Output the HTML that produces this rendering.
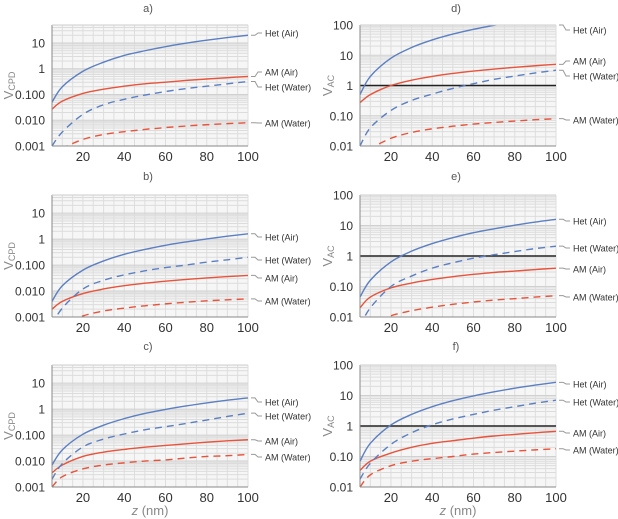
<!DOCTYPE html>
<html><head><meta charset="utf-8">
<style>
html,body{margin:0;padding:0;background:#fff;}
svg{display:block;font-family:"Liberation Sans",sans-serif;}
</style></head>
<body>
<svg id="fig" width="618" height="519" viewBox="0 0 618 519" xmlns="http://www.w3.org/2000/svg"></svg>
<script>
const zVals = [5,10,20,30,40,50,60,70,80,90,100];
const seriesNames = ["Het (Air)","AM (Air)","Het (Water)","AM (Water)"];
// panel a
const aHetAir = [0.05,0.2,0.8,1.8,3.3,5,7.2,9.8,12.8,16.2,20];
const aAmAir = [0.027,0.055,0.11,0.16,0.21,0.26,0.3,0.35,0.4,0.45,0.5];
const aHetWater = [0.001,0.0035,0.017,0.04,0.065,0.095,0.13,0.17,0.21,0.26,0.32];
const aAmWater = [0.0004,0.0008,0.0018,0.0028,0.0036,0.0044,0.0052,0.006,0.0067,0.0074,0.008];
// panel b
const bHetAir = [0.004,0.016,0.064,0.144,0.26,0.4,0.58,0.78,1.02,1.3,1.6];
const bAmAir = [0.002,0.004,0.008,0.012,0.016,0.02,0.024,0.028,0.032,0.036,0.04];
const bHetWater = [0.0005,0.0022,0.012,0.026,0.042,0.06,0.08,0.1,0.13,0.16,0.2];
const bAmWater = [0.0002,0.0005,0.0011,0.0017,0.0022,0.0027,0.0032,0.0037,0.0042,0.0046,0.005];
// panel c
const cHetAir = [0.007,0.027,0.108,0.24,0.43,0.68,0.97,1.32,1.73,2.2,2.7];
const cAmAir = [0.0035,0.007,0.015,0.022,0.028,0.034,0.04,0.046,0.053,0.06,0.066];
const cHetWater = [0.002,0.008,0.035,0.07,0.11,0.16,0.21,0.28,0.38,0.52,0.7];
const cAmWater = [0.001,0.0025,0.005,0.007,0.0085,0.01,0.011,0.013,0.015,0.016,0.018];
// panel d
const dHetAir = [0.5,2,8,18,32,50,72,98,128,162,200];
const dAmAir = [0.27,0.5,1.0,1.5,2.0,2.5,3.0,3.5,4.0,4.5,5.0];
const dHetWater = [0.01,0.04,0.15,0.32,0.52,0.8,1.15,1.6,2.05,2.6,3.2];
const dAmWater = [0.004,0.008,0.018,0.028,0.037,0.045,0.053,0.06,0.067,0.074,0.08];
// panel e
const eHetAir = [0.045,0.16,0.64,1.44,2.56,4,5.8,7.8,10.2,13,16];
const eAmAir = [0.02,0.045,0.09,0.13,0.17,0.21,0.25,0.29,0.32,0.36,0.4];
const eHetWater = [0.005,0.02,0.1,0.22,0.4,0.6,0.85,1.1,1.4,1.75,2.1];
const eAmWater = [0.003,0.006,0.011,0.016,0.021,0.026,0.031,0.036,0.04,0.045,0.05];
// panel f
const fHetAir = [0.07,0.27,1.08,2.4,4.3,6.75,9.7,13.2,17.3,21.9,27];
const fAmAir = [0.035,0.07,0.13,0.2,0.27,0.33,0.4,0.47,0.53,0.6,0.67];
const fHetWater = [0.018,0.06,0.25,0.6,1.1,1.7,2.4,3.3,4.3,5.6,7];
const fAmWater = [0.01,0.025,0.05,0.07,0.085,0.1,0.12,0.135,0.15,0.165,0.18];
const cpdTicks = ["0.001","0.010","0.100","1","10"];
const acTicks = ["0.01","0.10","1","10","100"];
const xTicks = [20,40,60,80,100];

const NS="http://www.w3.org/2000/svg";
const svg=document.getElementById("fig");
function mk(tag,attrs,parent){const e=document.createElementNS(NS,tag);for(const k in attrs)e.setAttribute(k,attrs[k]);(parent||svg).appendChild(e);return e;}

const BLUE="#5b7fc3", RED="#e8533a";
const panels=[
 {id:"a",L:52,T:25,B:146,ymin:-3,ymax:Math.log10(50),ticks:cpdTicks,tickExp:[-3,-2,-1,0,1],ylab:"CPD",yx:13,s:[aHetAir,aAmAir,aHetWater,aAmWater],labY:[33,72,87,123],title:"a)",ty:12,one:false},
 {id:"b",L:52,T:195,B:317,ymin:-3,ymax:Math.log10(50),ticks:cpdTicks,tickExp:[-3,-2,-1,0,1],ylab:"CPD",yx:13,s:[bHetAir,bAmAir,bHetWater,bAmWater],labY:[237,278,260,301],title:"b)",ty:180,one:false},
 {id:"c",L:52,T:365,B:487,ymin:-3,ymax:Math.log10(50),ticks:cpdTicks,tickExp:[-3,-2,-1,0,1],ylab:"CPD",yx:13,s:[cHetAir,cAmAir,cHetWater,cAmWater],labY:[402,441,416,457],title:"c)",ty:350,one:false,xl:true},
 {id:"d",L:360,T:25,B:146,ymin:-2,ymax:2,ticks:acTicks,tickExp:[-2,-1,0,1,2],ylab:"AC",yx:332,s:[dHetAir,dAmAir,dHetWater,dAmWater],labY:[30,61,76,120],title:"d)",ty:12,one:true},
 {id:"e",L:360,T:195,B:317,ymin:-2,ymax:2,ticks:acTicks,tickExp:[-2,-1,0,1,2],ylab:"AC",yx:332,s:[eHetAir,eAmAir,eHetWater,eAmWater],labY:[221,269,248,297],title:"e)",ty:180,one:true},
 {id:"f",L:360,T:365,B:487,ymin:-2,ymax:2,ticks:acTicks,tickExp:[-2,-1,0,1,2],ylab:"AC",yx:332,s:[fHetAir,fAmAir,fHetWater,fAmWater],labY:[384,433,402,450],title:"f)",ty:350,one:true,xl:true}
];
const colors=[BLUE,RED,BLUE,RED], dashes=[null,null,"7,5","7,5"];
const keys=["het-air","am-air","het-water","am-water"];

panels.forEach(p=>{
 const R=p.L+196, W=R-p.L;
 const g=mk("g",{});
 
 
 const xs=z=>p.L+(z-5)/95*W;
 const ys=v=>p.B-(Math.log10(v)-p.ymin)/(p.ymax-p.ymin)*(p.B-p.T);
 mk("rect",{x:p.L,y:p.T,width:W,height:p.B-p.T,fill:"#f6f6f6"},g);
 for(let z=5;z<=100;z+=5){mk("line",{x1:xs(z),x2:xs(z),y1:p.T,y2:p.B,stroke:"#dedede","stroke-width":1},g);}
 for(let e=Math.floor(p.ymin);e<Math.ceil(p.ymax);e++){for(let m=1;m<10;m++){const v=m*Math.pow(10,e);const y=ys(v);if(y<p.T-0.1||y>p.B+0.1)continue;
  mk("line",{x1:p.L,x2:R,y1:y,y2:y,stroke:m==1?"#d0d0d0":"#dcdcdc","stroke-width":1},g);}}
 const clipId="clip"+p.id;
 const cp=mk("clipPath",{id:clipId},g);mk("rect",{x:p.L,y:p.T,width:W,height:p.B-p.T},cp);
 if(p.one){const l=mk("line",{x1:p.L,x2:R,y1:ys(1),y2:ys(1),stroke:"#222","stroke-width":1.6},g);}
 p.s.forEach((arr,i)=>{
  const pts=zVals.map((z,k)=>[xs(z),ys(arr[k])]);
  let d="M"+pts[0][0]+","+pts[0][1];
  for(let k=0;k<pts.length-1;k++){const p0=pts[Math.max(0,k-1)],p1=pts[k],p2=pts[k+1],p3=pts[Math.min(pts.length-1,k+2)];
   const c1=[p1[0]+(p2[0]-p0[0])/6,p1[1]+(p2[1]-p0[1])/6],c2=[p2[0]-(p3[0]-p1[0])/6,p2[1]-(p3[1]-p1[1])/6];
   d+=" C"+c1[0]+","+c1[1]+" "+c2[0]+","+c2[1]+" "+p2[0]+","+p2[1];}
  const path=mk("path",{d:d,fill:"none",stroke:colors[i],"stroke-width":1.4,"clip-path":"url(#"+clipId+")"},g);
  if(dashes[i])path.setAttribute("stroke-dasharray",dashes[i]);
  
  
  const yEnd=Math.max(p.T,Math.min(p.B,ys(arr[arr.length-1])));
  const ly=p.labY[i];
  mk("path",{d:"M"+(R+3)+","+yEnd+" L"+(R+7)+","+yEnd+" L"+(R+10)+","+ly+" L"+(R+14)+","+ly,fill:"none",stroke:"#999","stroke-width":1},g);
  const t=mk("text",{x:R+17,y:ly+3.5,"font-size":9,fill:"#333"},g);
  t.textContent=seriesNames[i];
  
  
 });
 mk("line",{x1:p.L,x2:p.L,y1:p.T,y2:p.B,stroke:"#888","stroke-width":1},g);
 mk("line",{x1:p.L,x2:R,y1:p.B,y2:p.B,stroke:"#888","stroke-width":1},g);
 mk("line",{x1:p.L,x2:R,y1:p.T,y2:p.T,stroke:"#ccc","stroke-width":1},g);
 p.tickExp.forEach((e,k)=>{const y=ys(Math.pow(10,e));
  const t=mk("text",{x:p.L-7,y:y+4.5,"font-size":12,fill:"#333","text-anchor":"end"},g);t.textContent=p.ticks[k];
  });
 xTicks.forEach(z=>{const t=mk("text",{x:xs(z),y:p.B+15,"font-size":13,fill:"#333","text-anchor":"middle"},g);t.textContent=z;
  });
 const yl=mk("text",{transform:"translate("+p.yx+","+((p.T+p.B)/2)+") rotate(-90)","font-size":13,fill:"#888","text-anchor":"middle"},g);
 yl.innerHTML='V<tspan font-size="9" dy="2">'+p.ylab+'</tspan>';
 
 const tt=mk("text",{x:(p.L+R)/2-2,y:p.ty,"font-size":11,fill:"#555","text-anchor":"middle"},g);tt.textContent=p.title;
 
 if(p.xl){const xl=mk("text",{x:(p.L+R)/2,y:p.B+28,"font-size":13,fill:"#888","text-anchor":"middle"},g);
  xl.innerHTML='<tspan font-style="italic">z</tspan> (nm)';
  }
});
</script>
</body></html>
